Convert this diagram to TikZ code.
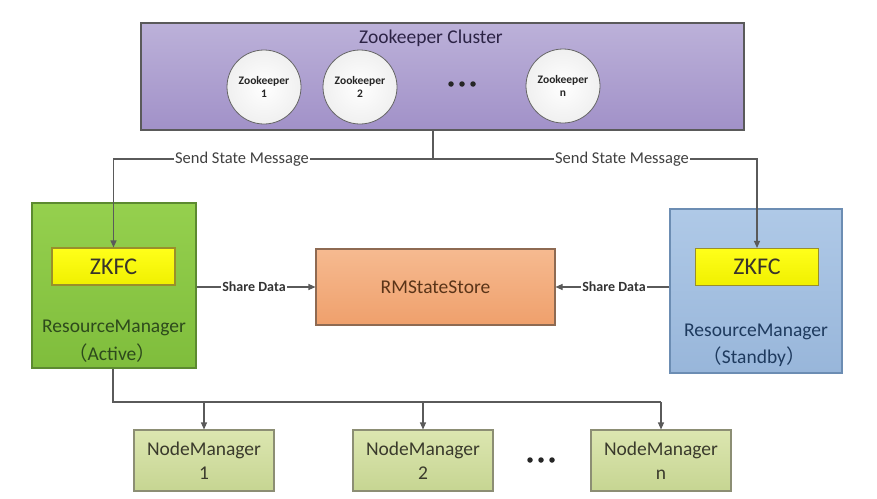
\documentclass[tikz,border=0pt]{standalone}
\usepackage{fontspec}
\setmainfont{Carlito}
\newfontfamily\cjk{Noto Sans CJK SC}
\usetikzlibrary{arrows.meta,shadings}
\definecolor{lineC}{HTML}{5A5A5A}
\definecolor{clusA}{HTML}{BCB1D9}
\definecolor{clusB}{HTML}{A191C8}
\definecolor{clusT}{HTML}{2C2345}
\definecolor{grnA}{HTML}{95D04E}
\definecolor{grnB}{HTML}{7FBD3C}
\definecolor{grnD}{HTML}{5C8A30}
\definecolor{grnT}{HTML}{2D4A1C}
\definecolor{ylwA}{HTML}{FFFF1A}
\definecolor{ylwB}{HTML}{F0F000}
\definecolor{ylwD}{HTML}{9A8F2A}
\definecolor{orgA}{HTML}{F6BA90}
\definecolor{orgB}{HTML}{EFA06C}
\definecolor{orgD}{HTML}{8E6A52}
\definecolor{orgT}{HTML}{5A3418}
\definecolor{bluA}{HTML}{AFC9E7}
\definecolor{bluB}{HTML}{98B6DA}
\definecolor{bluD}{HTML}{6C8DB3}
\definecolor{bluT}{HTML}{1E3A5E}
\definecolor{nmA}{HTML}{DCE6B0}
\definecolor{nmB}{HTML}{C6D592}
\definecolor{nmD}{HTML}{8C8E74}
\definecolor{nmT}{HTML}{3A3A2C}
\tikzset{
  conn/.style={draw=lineC, line width=1.1pt},
  arr/.style={conn, -{Triangle[length=7pt,width=6pt]}},
  clusterbox/.style={draw=lineC, line width=1.2pt, top color=clusA, bottom color=clusB, minimum width=603pt, minimum height=107pt, inner sep=0pt},
  zk/.style={circle, draw=gray!80!black, line width=0.8pt, inner color=white, outer color=gray!12, minimum size=74pt, inner sep=0pt, align=center, font=\fontsize{11.5}{13}\selectfont\bfseries, text=black!85},
  rmbox/.style={draw, line width=1.1pt, minimum width=164pt, minimum height=165pt, inner sep=0pt},
  zkfc/.style={draw=ylwD, line width=1.1pt, top color=ylwA, bottom color=ylwB, minimum width=123pt, minimum height=37pt, inner sep=0pt, font=\fontsize{24}{26}\selectfont, text=black!80!olive},
  nm/.style={draw=nmD, line width=1.1pt, top color=nmA, bottom color=nmB, minimum width=140pt, minimum height=61pt, inner sep=0pt, align=center, font=\fontsize{19.5}{24}\selectfont, text=nmT},
  rmtext/.style={font=\fontsize{19.5}{22}\selectfont},
  lbl/.style={fill=white, inner sep=1pt, font=\fontsize{16.5}{18}\selectfont, text=black!75},
  sd/.style={fill=white, inner sep=1pt, font=\fontsize{14}{15}\selectfont\bfseries, text=black!80},
  dot/.style={circle, fill=black!85, minimum size=5.5pt, inner sep=0pt},
}
\begin{document}
\begin{tikzpicture}[x=1pt,y=-1pt]
\useasboundingbox[fill=white] (0,0) rectangle (877,498);
% Zookeeper cluster
\node[clusterbox] (cluster) at (442.5,76.5) {};
\node[font=\fontsize{19.5}{21}\selectfont, text=clusT] (ctitle) at (431,38) {Zookeeper Cluster};
\node[zk] (z1) at (264,87) {Zookeeper\\1};
\node[zk] (z2) at (360,87) {Zookeeper\\2};
\node[zk] (zn) at (563,86) {Zookeeper\\n};
\node[dot] (d1) at (451,84) {};
\node[dot] (d2) at (462,84) {};
\node[dot] (d3) at (473,84) {};
% Resource managers
\node[rmbox, draw=grnD, top color=grnA, bottom color=grnB] (rma) at (114,285.5) {};
\node[zkfc] (zkfca) at (113.5,266.5) {ZKFC};
\node[rmtext, text=grnT] (rmat) at (114,328) {ResourceManager};
\node[rmtext, text=grnT] (rmaa) at (112,353) {{\cjk （}Active{\cjk ）}};
\node[rmbox, draw=bluD, top color=bluA, bottom color=bluB, minimum width=172pt, minimum height=164pt] (rms) at (756,291) {};
\node[zkfc] (zkfcs) at (757,267) {ZKFC};
\node[rmtext, text=bluT] (rmst) at (756,332) {ResourceManager};
\node[rmtext, text=bluT] (rmss) at (754,357) {{\cjk （}Standby{\cjk ）}};
% RMStateStore
\node[draw=orgD, line width=1.1pt, top color=orgA, bottom color=orgB, minimum width=239pt, minimum height=76pt, inner sep=0pt, font=\fontsize{19.5}{22}\selectfont, text=orgT] (store) at (435.5,287) {RMStateStore};
% Node managers
\node[nm] (nm1) at (204,460.5) {NodeManager\\1};
\node[nm] (nm2) at (423,460.5) {NodeManager\\2};
\node[nm] (nmn) at (661,460.5) {NodeManager\\n};
\node[dot] (e1) at (530,460) {};
\node[dot] (e2) at (541,460) {};
\node[dot] (e3) at (552,460) {};
% connectors from cluster
\coordinate (j) at (433,159);
\draw[conn] (cluster.south -| j) -- (j);
\draw[arr] (j) -- (j -| zkfca) -- (zkfca.north);
\draw[arr] (j) -- (j -| zkfcs) -- (zkfcs.north);
\node[lbl] (ssm1) at (242,159) {Send State Message};
\node[lbl] (ssm2) at (622,159) {Send State Message};
% share data
\draw[arr] (rma.east |- store) -- (store.west);
\node[sd] (sd1) at (254,287) {Share Data};
\draw[arr] (rms.west |- store) -- (store.east);
\node[sd] (sd2) at (614,287) {Share Data};
% to node managers
\coordinate (t) at (113,402);
\draw[conn] (rma.south -| t) -- (t) -- (t -| nmn);
\draw[arr] (t -| nm1) -- (nm1.north);
\draw[arr] (t -| nm2) -- (nm2.north);
\draw[arr] (t -| nmn) -- (nmn.north);
\end{tikzpicture}
\end{document}
